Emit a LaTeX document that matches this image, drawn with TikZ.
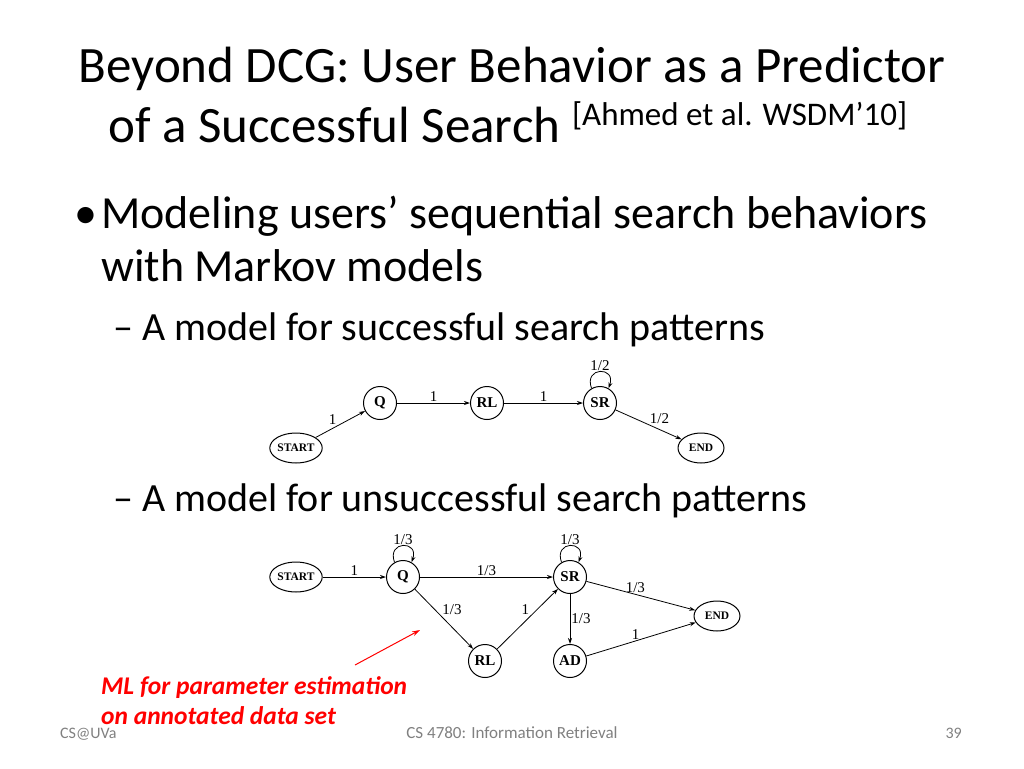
\documentclass[tikz,border=0pt]{standalone}
\usepackage{fontspec}
\setmainfont{Carlito}
\newfontfamily\tms{Liberation Serif}
\usetikzlibrary{arrows.meta,shapes.geometric}
\begin{document}
\begin{tikzpicture}[x=1pt,y=-1pt,
  st/.style={circle,draw,line width=1pt,minimum size=33pt,inner sep=0pt,font=\tms\bfseries\fontsize{15}{15}\selectfont},
  el/.style={ellipse,draw,line width=1pt,minimum width=46pt,minimum height=30pt,inner sep=0pt,font=\tms\bfseries\fontsize{11.5}{11.5}\selectfont},
  ed/.style={draw,line width=0.8pt,-{Stealth[length=6pt,width=4pt]}},
  lb/.style={font=\tms\fontsize{15}{15}\selectfont,inner sep=1pt},
  txt/.style={anchor=base west,inner sep=0pt}]
\useasboundingbox (0,0) rectangle (1024,768);
\node[anchor=base,inner sep=0] (t1) at (512,82) {\fontsize{51}{54}\selectfont Beyond DCG: User Behavior as a Predictor};
\node[txt] (t2) at (108,142) {\fontsize{51}{54}\selectfont of a Successful Search \raisebox{17pt}{\fontsize{33}{35}\selectfont [Ahmed et al. WSDM’10]}};
\node[txt] (b0) at (74,228) {\fontsize{46}{48}\selectfont •};
\node[txt] (b1) at (101,228) {\fontsize{46}{48}\selectfont Modeling users’ sequential search behaviors};
\node[txt] (b2) at (101,281) {\fontsize{46}{48}\selectfont with Markov models};
\node[txt] (s1) at (113,340) {\fontsize{40}{42}\selectfont – A model for successful search patterns};
\node[txt] (s2) at (113,511) {\fontsize{40}{42}\selectfont – A model for unsuccessful search patterns};
% top model
\node[el] (aS) at (296,448) {START};
\node[st] (aQ) at (380,403) {Q};
\node[st] (aR) at (487,403) {RL};
\node[st] (aSR) at (600,403) {SR};
\node[el] (aE) at (701,448) {END};
\draw[ed] (aS) -- node[lb,above left,pos=0.45]{1} (aQ);
\draw[ed] (aQ) -- node[lb,above]{1} (aR);
\draw[ed] (aR) -- node[lb,above]{1} (aSR);
\draw[ed] (aSR) -- node[lb,above right,pos=0.5]{1/2} (aE);
\draw[ed] (aSR.120) .. controls +(-8,-22) and +(8,-22) .. node[lb,above]{1/2} (aSR.60);
% bottom model
\node[el] (bS) at (296,577) {START};
\node[st] (bQ) at (403,577) {Q};
\node[st] (bSR) at (570,577) {SR};
\node[el] (bE) at (717,616) {END};
\node[st] (bR) at (485,661) {RL};
\node[st] (bA) at (570,661) {AD};
\draw[ed] (bS) -- node[lb,above]{1} (bQ);
\draw[ed] (bQ) -- node[lb,above]{1/3} (bSR);
\draw[ed] (bQ) -- node[lb,above right,pos=0.45]{1/3} (bR);
\draw[ed] (bR) -- node[lb,above left,pos=0.55]{1} (bSR);
\draw[ed] (bSR) -- node[lb,right]{1/3} (bA);
\draw[ed] (bSR) -- node[lb,above,pos=0.45]{1/3} (bE);
\draw[ed] (bA) -- node[lb,above,pos=0.45]{1} (bE);
\draw[ed] (bQ.120) .. controls +(-8,-22) and +(8,-22) .. node[lb,above]{1/3} (bQ.60);
\draw[ed] (bSR.120) .. controls +(-8,-22) and +(8,-22) .. node[lb,above]{1/3} (bSR.60);
% annotation
\coordinate (rA) at (355,665);
\coordinate (rB) at (420,630);
\draw[red,line width=1pt,-{Stealth[length=8pt,width=5pt]}] (rA) -- (rB);
\node[txt,red] (m1) at (101,694) {\fontsize{25.5}{27}\selectfont\bfseries\itshape ML for parameter estimation};
\node[txt,red] (m2) at (101,724) {\fontsize{25.5}{27}\selectfont\bfseries\itshape on annotated data set};
\node[txt,gray] (f1) at (60,738) {\fontsize{16}{18}\selectfont CS@UVa};
\node[anchor=base,inner sep=0,gray] (f2) at (512,738) {\fontsize{17}{19}\selectfont CS 4780: Information Retrieval};
\node[anchor=base east,inner sep=0,gray] (f3) at (962,738) {\fontsize{16}{18}\selectfont 39};
\end{tikzpicture}
\end{document}
